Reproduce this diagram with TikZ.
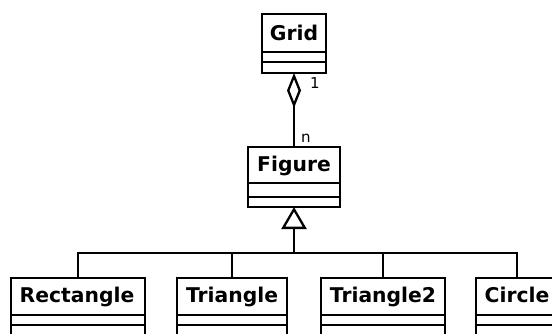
\documentclass[tikz,border=0pt]{standalone}
\usepackage{fontspec}
\setmainfont{DejaVu Sans}
\usetikzlibrary{arrows.meta}
\begin{document}
\begin{tikzpicture}[x=1pt,y=-1pt,line width=2.3pt,
  box/.style={draw,line width=2.3pt,inner sep=0pt,outer sep=0pt,anchor=north west},
  cname/.style={font=\fontsize{20.3}{21}\selectfont\bfseries,anchor=base,inner sep=0pt},
  mult/.style={font=\fontsize{15}{15}\selectfont,anchor=base west,inner sep=0pt},
  aggr/.style={-{Diamond[open,length=35pt,width=14pt]}},
  gen/.style={-{Triangle[open,length=22pt,width=25pt]}}]
\useasboundingbox (0,0) rectangle (552,334);
\clip (0,0) rectangle (552,334);
% Grid
\node[box,minimum width=64pt,minimum height=59pt] (grid) at (262,14) {};
\node[cname] (gridname) at (294,40.5) {Grid};
\draw (262,52) -- (326,52) (262,62) -- (326,62);
% Figure
\node[box,minimum width=92pt,minimum height=60pt] (figure) at (248,147) {};
\node[cname] (figurename) at (294,172) {Figure};
\draw (248,183) -- (340,183) (248,197) -- (340,197);
% children
\node[box,minimum width=134pt,minimum height=70pt] (rect) at (11,278) {};
\node[cname] (rectname) at (77,302.5) {Rectangle};
\node[box,minimum width=110pt,minimum height=70pt] (tri) at (177,278) {};
\node[cname] (triname) at (232,302.5) {Triangle};
\node[box,minimum width=124pt,minimum height=70pt] (tri2) at (321,278) {};
\node[cname] (tri2name) at (383,302.5) {Triangle2};
\node[box,minimum width=82pt,minimum height=70pt] (circ) at (476,278) {};
\node[cname] (circname) at (517,302.5) {Circle};
\draw (11,315) -- (145,315) (11,325) -- (145,325);
\draw (177,315) -- (287,315) (177,325) -- (287,325);
\draw (321,315) -- (445,315) (321,325) -- (445,325);
\draw (476,315) -- (558,315) (476,325) -- (558,325);
% aggregation
\draw[aggr] (figure.north) -- (grid.south);
\node[mult] (m1) at (309,88.5) {1};
\node[mult] (mn) at (300,143) {n};
% generalization
\coordinate (jn) at (294,253);
\draw (rect.north) |- (jn);
\draw (tri.north) |- (jn);
\draw (tri2.north) |- (jn);
\draw (circ.north) |- (jn);
\draw[gen] (jn) -- (figure.south);
\end{tikzpicture}
\end{document}
